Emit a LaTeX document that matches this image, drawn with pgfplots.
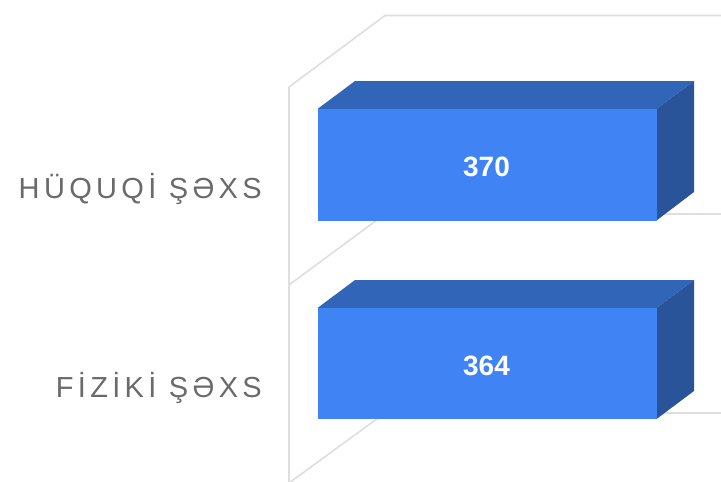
\documentclass[border=0pt]{standalone}
\usepackage{fontspec}
\setmainfont{Liberation Sans}
\newfontfamily\catfont[LetterSpace=15]{Liberation Sans}
\usepackage{pgfplots}
\pgfplotsset{compat=1.18}
\definecolor{front}{HTML}{4083F4}
\definecolor{topf}{HTML}{3165B8}
\definecolor{side}{HTML}{2A5499}
\definecolor{wall}{HTML}{DEDEDE}
\definecolor{cat}{HTML}{6A6A6A}
\begin{document}
\begin{tikzpicture}[x=1pt,y=1pt]
\begin{axis}[
  scale only axis, width=721pt, height=482pt,
  xmin=0, xmax=721, ymin=0, ymax=482, y dir=reverse,
  ticks=none, axis line style={draw=none}, clip=true]
% walls and gridlines
\addplot[wall, line width=1.6pt] coordinates {(289,482) (289,87) (385,15.5) (725,15.5)};
\addplot[wall, line width=1.6pt] coordinates {(289,285) (385,214) (725,214)};
\addplot[wall, line width=1.6pt] coordinates {(289,483) (385,413) (725,413)};
% upper bar (370)
\addplot[fill=topf, draw=none] coordinates {(317.5,109) (355,81) (694,81) (656.5,109)} -- cycle;
\addplot[fill=side, draw=none] coordinates {(656.5,109) (694,81) (694,192) (656.5,220.5)} -- cycle;
\addplot[fill=front, draw=none] coordinates {(317.5,109) (656.5,109) (656.5,220.5) (317.5,220.5)} -- cycle;
% lower bar (364)
\addplot[fill=topf, draw=none] coordinates {(317.5,308) (355,280) (694,280) (656.5,308)} -- cycle;
\addplot[fill=side, draw=none] coordinates {(656.5,308) (694,280) (694,391) (656.5,419)} -- cycle;
\addplot[fill=front, draw=none] coordinates {(317.5,308) (656.5,308) (656.5,419) (317.5,419)} -- cycle;
% value labels
\addplot[only marks, mark=none, point meta=explicit symbolic, nodes near coords,
  nodes near coords style={font=\fontsize{28}{28}\selectfont\bfseries, text=white, anchor=center, inner sep=0pt}]
  table[x=x, y=y, meta=v, col sep=comma] {
x,y,v
486.5,167,370
486.5,366,364
};
% category labels
\addplot[only marks, mark=none, point meta=explicit symbolic, nodes near coords,
  nodes near coords style={font=\fontsize{29}{29}\catfont, text=cat, anchor=east, inner sep=0pt}]
  table[x=x, y=y, meta=c, col sep=comma] {
x,y,c
262,189,HÜQUQİ ŞƏXS
262,388,FİZİKİ ŞƏXS
};
\end{axis}
\end{tikzpicture}
\end{document}
